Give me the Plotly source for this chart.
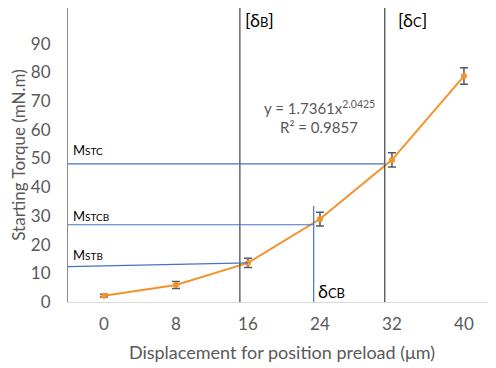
import plotly.graph_objects as go

# ---- data ----
displacement = [0, 8, 16, 24, 32, 40]
torque = [2.2, 5.9, 13.6, 28.9, 49.5, 78.7]
torque_err = [0.5, 1.2, 1.6, 2.4, 2.5, 2.9]
x_ticks = [0, 8, 16, 24, 32, 40]
y_ticks = [0, 10, 20, 30, 40, 50, 60, 70, 80, 90]

delta_B = 15.1
delta_C = 31.2
delta_CB = 23.3
M_STC = 48.1
M_STCB = 26.9
M_STB = [12.3, 13.6]

FONT = "Lato, Noto Sans, sans-serif"
GRAY = "#595959"
BLUE = "#4472C4"
DARK = "#404040"
ORANGE = "#F4922A"
CLEAR = "rgba(0,0,0,0)"
X0, X1 = -4, 43.56
Y0, Y1 = 0, 102.4

fig = go.Figure()
fig.add_trace(go.Scatter(
    x=displacement, y=torque, mode="lines+markers",
    line=dict(color=ORANGE, width=2),
    marker=dict(color=ORANGE, size=6),
    error_y=dict(type="data", array=torque_err, color=GRAY, thickness=1.5, width=4),
    showlegend=False, hoverinfo="skip"))

def seg(x0, y0, x1, y1, color, width=1.2):
    fig.add_shape(type="line", x0=x0, y0=y0, x1=x1, y1=y1, xref="x", yref="y",
                  line=dict(color=color, width=width))

# vertical lines
seg(delta_B, -1.4, delta_B, Y1, DARK)
seg(delta_C, -1.4, delta_C, Y1, DARK)
# horizontal blue lines
seg(X0, M_STC, delta_C, M_STC, BLUE)
seg(X0, M_STCB, delta_CB, M_STCB, BLUE)
seg(X0, M_STB[0], 16, M_STB[1], BLUE)
seg(delta_CB, -1.2, delta_CB, 33.4, BLUE)

def ann(x, y, text, size=14, color="black", xanchor="center"):
    fig.add_annotation(x=x, y=y, xref="x", yref="y", text=text, showarrow=False,
                       font=dict(family=FONT, size=size, color=color), xanchor=xanchor)

ann(17.3, 98.3, "[δ<span style='font-size:13px'>B</span>]", size=18)
ann(34.3, 98.3, "[δ<span style='font-size:13px'>C</span>]", size=18)
ann(23.9, 67.9, "y = 1.7361x<sup>2.0425</sup>", size=15, color=GRAY)
ann(23.9, 61.0, "R² = 0.9857", size=15, color=GRAY)
ann(-3.7, 53.0, "M<span style='font-size:10px'>STC</span>", size=13, xanchor="left")
ann(-3.7, 30.0, "M<span style='font-size:10px'>STCB</span>", size=13, xanchor="left")
ann(-3.7, 16.4, "M<span style='font-size:10px'>STB</span>", size=13, xanchor="left")
ann(23.6, 3.8, "δ<span style='font-size:13px'>CB</span>", size=18, xanchor="left")

fig.update_layout(
    width=496, height=368,
    margin=dict(l=60, r=8, t=0, b=74),
    plot_bgcolor="white", paper_bgcolor="white",
    font=dict(family=FONT, color=GRAY),
    xaxis=dict(range=[X0, X1], tickvals=x_ticks, ticktext=[str(v) for v in x_ticks],
               showgrid=False, zeroline=False, showline=True, linecolor="#d9d9d9",
               linewidth=1.2, ticks="outside", ticklen=6, tickcolor=CLEAR,
               automargin=False,
               tickfont=dict(size=17, color=GRAY),
               title=dict(text="Displacement for position preload (μm)",
                          font=dict(size=18, color=GRAY), standoff=13)),
    yaxis=dict(range=[Y0, Y1], tickvals=y_ticks, showgrid=False, zeroline=False,
               showline=True, linecolor="#8c8c8c", linewidth=1.2,
               ticks="outside", ticklen=13, tickcolor=CLEAR,
               automargin=False,
               tickfont=dict(size=17, color=GRAY),
               title=dict(text="Starting Torque (mN.m)", font=dict(size=17, color=GRAY),
                          standoff=4)),
)
fig.write_html("out.html")
